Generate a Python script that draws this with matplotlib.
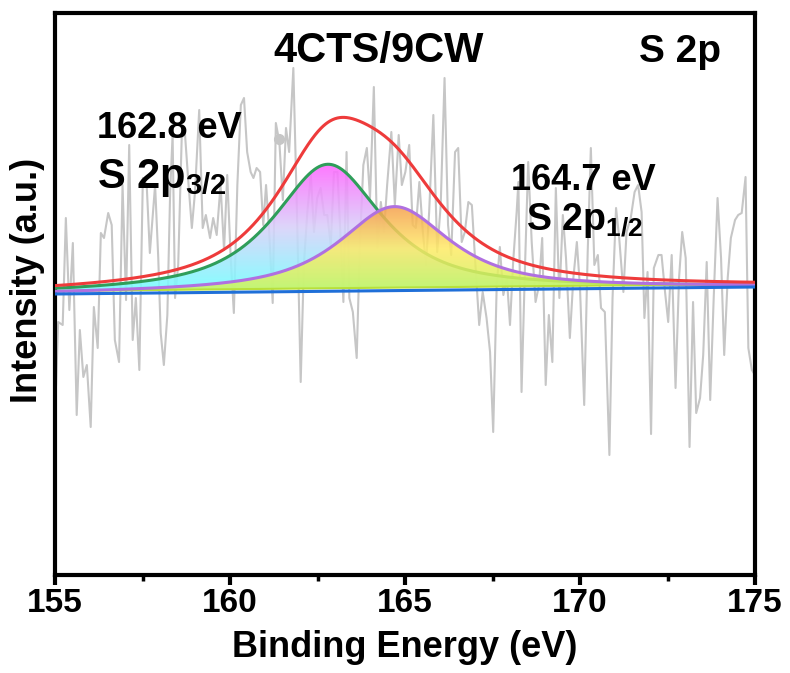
import numpy as np
import matplotlib
matplotlib.use("Agg")
import matplotlib.pyplot as plt
from matplotlib.colors import LinearSegmentedColormap

# ---------------- data ----------------
energy = [155.03,155.09,155.22,155.31,155.41,155.51,155.62,155.71,155.81,155.91,156.02,156.11,156.22,156.31,156.40,156.52,156.62,156.71,156.83,156.93,157.03,157.12,157.22,157.31,157.41,157.51,157.62,157.71,
          157.86,157.95,158.02,158.11,158.21,158.29,158.36,158.43,158.52,158.62,158.71,158.81,158.91,159.00,159.12,159.22,159.31,159.43,159.52,159.62,159.73,159.83,159.92,160.02,160.11,160.21,160.31,160.40,160.49,160.59,
          160.67,160.76,160.86,160.95,161.03,161.12,161.22,161.31,161.41,161.51,161.60,161.69,161.81,161.91,162.02,162.11,162.21,162.31,162.40,162.49,162.59,162.69,162.78,162.88,162.97,163.07,163.16,163.24,163.33,163.41,163.51,
          163.62,163.71,163.81,163.91,164.00,164.11,164.21,164.31,164.40,164.49,164.61,164.71,164.82,164.91,165.01,165.12,165.22,165.31,165.41,165.51,165.60,165.69,165.81,165.92,166.02,166.13,166.23,166.32,
          166.43,166.52,166.62,166.71,166.81,166.91,167.00,167.12,167.22,167.33,167.43,167.52,167.62,167.71,167.81,167.91,168.00,168.09,168.19,168.24,168.33,168.43,168.52,168.62,168.73,168.83,168.92,169.02,169.11,169.21,
          169.31,169.41,169.51,169.60,169.71,169.81,169.91,170.00,170.12,170.22,170.31,170.41,170.51,170.60,170.71,170.84,170.93,171.03,171.12,171.24,171.33,171.45,171.56,171.66,171.76,171.84,171.93,172.03,
          172.11,172.24,172.33,172.43,172.52,172.62,172.73,172.83,172.92,173.02,173.13,173.23,173.32,173.43,173.52,173.62,173.72,173.82,173.93,174.03,174.12,174.22,174.31,174.43,174.52,174.62,174.73,174.81,174.91,175.00]
intensity = [190,253,250,357,265,332,160,245,198,210,148,268,227,342,337,362,350,235,213,390,275,430,235,277,205,397,390,322,
             390,317,242,210,260,383,440,277,310,437,443,393,347,383,465,347,360,337,357,340,390,325,400,317,262,390,470,477,423,403,
             397,407,403,350,390,343,272,452,433,375,447,423,507,367,193,310,363,400,343,377,387,360,360,330,403,403,337,273,423,277,263,
             217,330,410,427,377,488,327,373,343,390,443,370,440,390,403,430,350,347,393,343,310,363,460,323,370,497,350,320,
             423,427,333,343,373,370,317,250,283,257,223,143,290,328,280,297,250,313,363,393,183,310,413,333,273,290,337,190,260,213,
             387,277,360,317,237,297,333,287,170,323,427,310,320,267,263,120,277,367,337,283,343,357,383,390,363,257,303,141,
             307,320,320,283,253,320,187,297,343,317,128,273,162,177,220,313,175,277,377,317,220,297,337,355,360,362,398,227,205,200]

spot_energy = [161.4]
spot_intensity = [436]

baseline_energy = [155.0, 175.0]
baseline_level = [281, 288]

peak_centers = [162.8, 164.7]
peak_heights = [127, 84]
peak_fwhm = [3.7, 3.8]
peak_lorentz_fraction = [0.85, 0.85]

xticks = [155, 160, 165, 170, 175]

# ---------------- fonts ----------------
plt.rcParams['font.family'] = ['Liberation Sans', 'DejaVu Sans']
plt.rcParams['mathtext.fontset'] = 'custom'
plt.rcParams['mathtext.rm'] = 'Liberation Sans:bold'
plt.rcParams['mathtext.bf'] = 'Liberation Sans:bold'
plt.rcParams['mathtext.it'] = 'Liberation Sans:bold'

W, H = 790, 673
fig = plt.figure(figsize=(W/100, H/100), dpi=100)
ax = fig.add_axes([55/W, (H-575)/H, 700/W, 562/H])

def fp(px, py):
    return px/W, 1 - py/H

x = np.linspace(155, 175, 1201)
base = np.interp(x, baseline_energy, baseline_level)

def pvoigt(c, h, w, eta):
    g = np.exp(-4*np.log(2)*((x - c)/w)**2)
    l = 1/(1 + (2*(x - c)/w)**2)
    return h*((1 - eta)*g + eta*l)

p1 = pvoigt(peak_centers[0], peak_heights[0], peak_fwhm[0], peak_lorentz_fraction[0])
p2 = pvoigt(peak_centers[1], peak_heights[1], peak_fwhm[1], peak_lorentz_fraction[1])
env = base + p1 + p2

# raw data
ax.plot(energy, intensity, color='#c6c6c6', lw=1.5, zorder=1)
ax.plot(spot_energy, spot_intensity, 'o', color='#c6c6c6', ms=7, zorder=1)

def grad_fill(y_top, y_bot, stops, alpha, z):
    poly = ax.fill_between(x, y_bot, y_top, color='none', lw=0, zorder=z)
    cmap = LinearSegmentedColormap.from_list('g', stops)
    ymin, ymax = y_bot.min(), y_top.max()
    grad = np.linspace(0, 1, 256).reshape(-1, 1)
    im = ax.imshow(grad, cmap=cmap, aspect='auto', origin='lower',
                   extent=[155, 175, ymin, ymax], alpha=alpha, zorder=z,
                   interpolation='bicubic')
    path = poly.get_paths()[0]
    im.set_clip_path(path, transform=ax.transData)

grad_fill(base + p1, base + 3, [(0.45, 1.0, 1.0), (0.85, 0.82, 0.98), (1.0, 0.40, 1.0)], 0.88, 2)
ax.plot(x, base + p1, color='#2f9e5a', lw=2.2, zorder=3)
grad_fill(base + p2, base + 3, [(0.80, 0.96, 0.36), (1.0, 0.92, 0.40), (0.96, 0.62, 0.30)], 0.85, 4)
ax.plot(x, base + 3, color='#b8e03a', lw=1.5, zorder=4)
ax.plot(x, base + p2, color='#b070e0', lw=2.2, zorder=5)
ax.plot(x, env, color='#ee3b3b', lw=2.2, zorder=6)
ax.plot(x, base, color='#1f6fd8', lw=2.2, zorder=6)

ax.set_xlim(155, 175)
ax.set_ylim(0, 562)
ax.set_xticks(xticks)
ax.set_xticks([157.5, 162.5, 167.5, 172.5], minor=True)
ax.set_yticks([])
for s in ax.spines.values():
    s.set_linewidth(3)
ax.tick_params(axis='x', which='major', length=7, width=3, direction='out', pad=2)
ax.tick_params(axis='x', which='minor', length=4, width=2.5, direction='out')
for lab in ax.get_xticklabels():
    lab.set_fontweight('bold')
    lab.set_fontsize(24)
ax.set_xlabel('Binding Energy (eV)', fontweight='bold', fontsize=26, labelpad=8)
fig.text(*fp(28, 280), 'Intensity (a.u.)', fontweight='bold', fontsize=26,
         rotation=90, ha='center', va='center')

fig.text(*fp(273, 62), '4CTS/9CW', fontsize=30, fontweight='bold', ha='left', va='baseline')
fig.text(*fp(639, 62), 'S 2p', fontsize=28, fontweight='bold', ha='left', va='baseline')
fig.text(*fp(97, 138), '162.8 eV', fontsize=26, fontweight='bold', ha='left', va='baseline')
fig.text(*fp(97, 188), r'S 2p$_{\mathbf{3/2}}$', fontsize=30, fontweight='bold', ha='left', va='baseline')
fig.text(*fp(511, 190), '164.7 eV', fontsize=26, fontweight='bold', ha='left', va='baseline')
fig.text(*fp(526, 230), r'S 2p$_{\mathbf{1/2}}$', fontsize=27, fontweight='bold', ha='left', va='baseline')

fig.savefig('out.png', dpi=100)
